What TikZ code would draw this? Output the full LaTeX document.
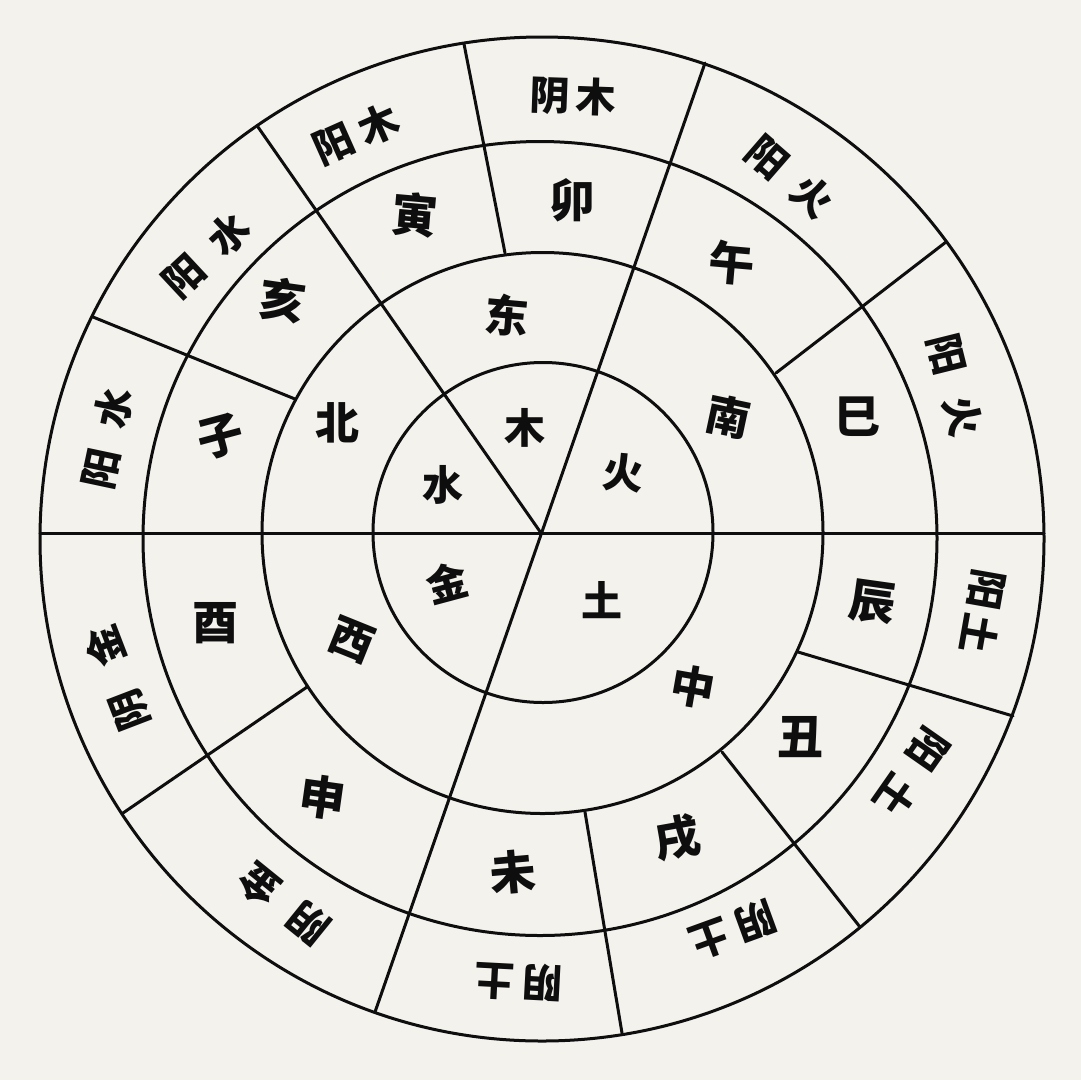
\documentclass[tikz,border=0pt]{standalone}
\usepackage{fontspec}
\newfontfamily\cjk{Noto Sans CJK SC}
\definecolor{paper}{RGB}{243,242,237}
\definecolor{ink}{RGB}{14,14,14}
\begin{document}
\begin{tikzpicture}[x=1pt,y=-1pt,line width=3pt,
  ring/.style={draw=ink},
  spoke/.style={draw=ink,line cap=round},
  outerlbl/.style={font=\cjk\bfseries\fontsize{40}{40}\selectfont,text=ink,inner sep=0pt},
  branchlbl/.style={font=\cjk\bfseries\fontsize{46}{46}\selectfont,text=ink,inner sep=0pt},
  dirlbl/.style={font=\cjk\bfseries\fontsize{44}{44}\selectfont,text=ink,inner sep=0pt},
  elemlbl/.style={font=\cjk\bfseries\fontsize{41}{41}\selectfont,text=ink,inner sep=0pt}]
\fill[paper] (0,0) rectangle (1081,1080);
\useasboundingbox (0,0) rectangle (1081,1080);
% centres
\coordinate (Ca) at (543,532.5);
\coordinate (Cb) at (542.5,533);
\coordinate (Cc) at (540,538.5);
\coordinate (Cd) at (542,539);
\coordinate (O) at (541,533);
% circles
\draw[ring] (Ca) circle[radius=170];
\draw[ring] (Cb) circle[radius=280.5];
\draw[ring] (Cc) circle[radius=397];
\draw[ring] (Cd) circle[radius=502];
% spoke end points
\coordinate (W) at (40,533);
\coordinate (E) at (1044,533);
\coordinate (NNE) at (705,63);
\coordinate (SSW) at (375,1012);
\coordinate (NW) at (258,127);
\coordinate (s1a) at (295,399);  \coordinate (s1b) at (93,317);
\coordinate (s2a) at (505,253);  \coordinate (s2b) at (464,44);
\coordinate (s3a) at (776,373);  \coordinate (s3b) at (946,242);
\coordinate (s4a) at (798,652);  \coordinate (s4b) at (1013,716);
\coordinate (s5a) at (722,752);  \coordinate (s5b) at (860,927);
\coordinate (s6a) at (585,812);  \coordinate (s6b) at (622,1033);
\coordinate (s7a) at (307,687);  \coordinate (s7b) at (123,813);
% spokes
\draw[spoke] (W) -- (E);
\draw[spoke] (NNE) -- (SSW);
\draw[spoke] (O) -- (NW);
\draw[spoke] (s1a) -- (s1b);
\draw[spoke] (s2a) -- (s2b);
\draw[spoke] (s3a) -- (s3b);
\draw[spoke] (s4a) -- (s4b);
\draw[spoke] (s5a) -- (s5b);
\draw[spoke] (s6a) -- (s6b);
\draw[spoke] (s7a) -- (s7b);
% inner: five elements
\node[elemlbl] (shui) at (443,485) {水};
\node[elemlbl] (mu) at (525,428) {木};
\node[elemlbl,rotate=-5] (huo) at (623,473) {火};
\node[elemlbl,rotate=15] (jin) at (447,583) {金};
\node[elemlbl] (tu) at (602,600) {土};
% second ring: directions
\node[dirlbl] (bei) at (337,423) {北};
\node[dirlbl,rotate=-5] (dong) at (507,315) {东};
\node[dirlbl,rotate=-12] (nan) at (728,417) {南};
\node[dirlbl,rotate=-10] (zhong) at (693,687) {中};
\node[dirlbl,rotate=-22] (xi) at (352,640) {西};
% third ring: branches
\node[branchlbl] (mao) at (572,200) {卯};
\node[branchlbl,rotate=-5] (yin) at (415,215) {寅};
\node[branchlbl,rotate=-8] (hai) at (283,300) {亥};
\node[branchlbl,rotate=15] (zi) at (220,437) {子};
\node[branchlbl] (you) at (215,623) {酉};
\node[branchlbl,rotate=-8] (shen) at (323,797) {申};
\node[branchlbl,rotate=5] (wei) at (513,872) {未};
\node[branchlbl,rotate=10] (xu) at (677,838) {戌};
\node[branchlbl] (chou) at (800,737) {丑};
\node[branchlbl,rotate=-8] (chen) at (873,602) {辰};
\node[branchlbl] (si) at (857,417) {巳};
\node[branchlbl,rotate=-5] (wu) at (732,263) {午};
% outer ring: yin/yang elements
\node[outerlbl,rotate=-2] (o1) at (573,96) {阴\hspace{7pt}木};
\node[outerlbl,rotate=24] (o2) at (356,134) {阳\hspace{9pt}木};
\node[outerlbl,rotate=43] (o3) at (206,255) {阳\hspace{22pt}水};
\node[outerlbl,rotate=78] (o4) at (107,438) {阳\hspace{22pt}水};
\node[outerlbl,rotate=-41] (o5) at (790,177) {阳\hspace{20pt}火};
\node[outerlbl,rotate=-76] (o6) at (955,385) {阳\hspace{24pt}火};
\node[outerlbl,rotate=-100] (o7) at (983,612) {阳\hspace{5pt}土};
\node[outerlbl,rotate=-125] (o8) at (912,773) {阳\hspace{16pt}土};
\node[outerlbl,rotate=-160] (o9) at (733,930) {阴\hspace{9pt}土};
\node[outerlbl,rotate=177] (o10) at (519,982) {阴\hspace{8pt}土};
\node[outerlbl,rotate=141] (o11) at (284,904) {阴\hspace{22pt}金};
\node[outerlbl,rotate=111] (o12) at (117,678) {阴\hspace{28pt}金};
\end{tikzpicture}
\end{document}
